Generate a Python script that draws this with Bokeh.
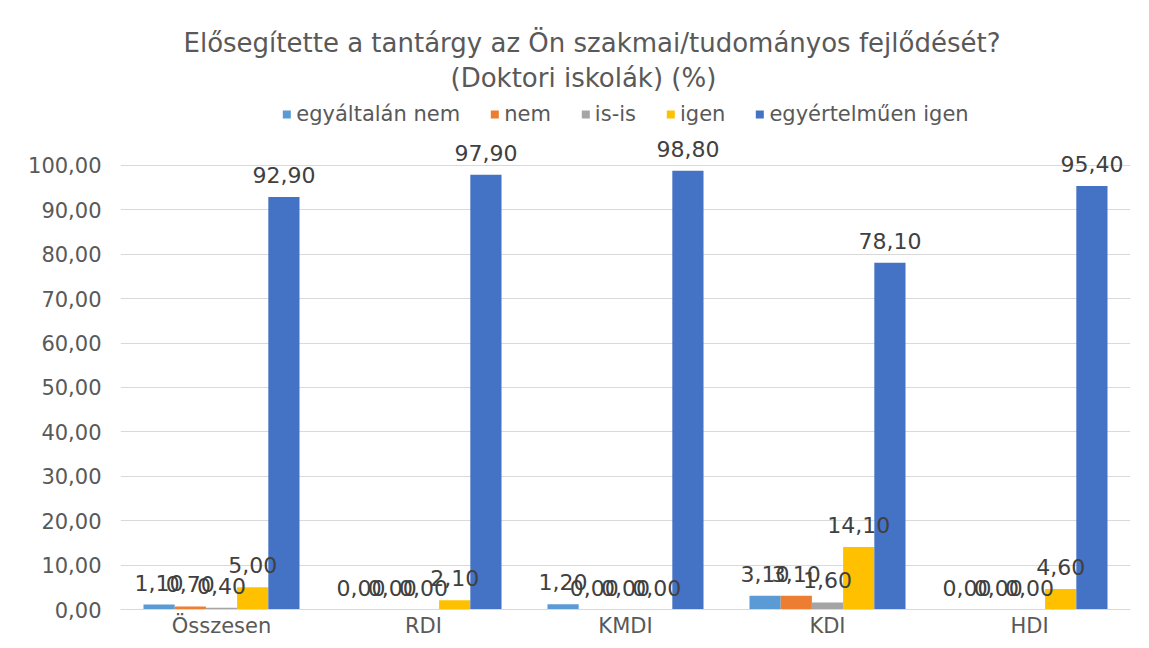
from bokeh.plotting import figure
from bokeh.models import ColumnDataSource, FactorRange, Range1d, FixedTicker, Legend, LegendItem, Title
from bokeh.transform import dodge
from bokeh.core.properties import value
from bokeh.embed import file_html
from bokeh.resources import INLINE

categories = ["Összesen", "RDI", "KMDI", "KDI", "HDI"]
series_names = ["egyáltalán nem", "nem", "is-is", "igen", "egyértelműen igen"]
egyaltalan_nem = [1.10, 0.00, 1.20, 3.10, 0.00]
nem = [0.70, 0.00, 0.00, 3.10, 0.00]
is_is = [0.40, 0.00, 0.00, 1.60, 0.00]
igen = [5.00, 2.10, 0.00, 14.10, 4.60]
egyertelmuen_igen = [92.90, 97.90, 98.80, 78.10, 95.40]
y_ticks = [0, 10, 20, 30, 40, 50, 60, 70, 80, 90, 100]
title_lines = ["Elősegítette a tantárgy az Ön szakmai/tudományos fejlődését?",
               "(Doktori iskolák) (%)"]

series_values = [egyaltalan_nem, nem, is_is, igen, egyertelmuen_igen]
colors = ["#5B9BD5", "#ED7D31", "#A5A5A5", "#FFC000", "#4472C4"]

FONT = "DejaVu Sans"

def fmt(v):
    return f"{v:.2f}".replace(".", ",")

p = figure(
    x_range=FactorRange(*categories, range_padding=0),
    y_range=Range1d(0, 115.09),
    width=1141, height=640,
    output_backend="svg", toolbar_location=None,
    min_border_left=120, min_border_right=11, min_border_bottom=31, min_border_top=98,
    title=None,
)
p.outline_line_color = None
title_offsets = [330, 63]
title_standoffs = [11, -5]
for line, off, so in zip(reversed(title_lines), title_offsets, title_standoffs):
    p.add_layout(Title(text=line, align="left", text_font=FONT, text_font_size="26px",
                       text_font_style="normal", text_color="#595959",
                       standoff=so, offset=off), "above")

bw = 0.1545
offsets = [-2 * bw, -bw, 0, bw, 2 * bw]
items = []
sources = []
for name, vals, col, off in zip(series_names, series_values, colors, offsets):
    src = ColumnDataSource(dict(cat=categories, val=vals, lab=[fmt(v) for v in vals]))
    sources.append((src, off))
    r = p.vbar(x=dodge("cat", off, range=p.x_range), top="val", width=bw, source=src,
               fill_color=col, line_color=None)
    items.append(LegendItem(label=name, renderers=[r]))

for src, off in sources:
    p.text(x=dodge("cat", off, range=p.x_range), y="val", text="lab", source=src,
           text_align="center", text_baseline="middle", y_offset=-22,
           text_font=value(FONT), text_font_size="22px", text_color="#404040")

legend = Legend(items=items, orientation="horizontal", location="top_center",
                margin=4, padding=2, spacing=29, label_standoff=5,
                glyph_width=10, glyph_height=10,
                label_text_font=FONT, label_text_font_size="21px", label_text_color="#595959",
                border_line_color=None, background_fill_alpha=0)
p.add_layout(legend, "center")

p.yaxis.ticker = FixedTicker(ticks=y_ticks)
p.yaxis.major_label_overrides = {t: fmt(t) for t in y_ticks}
p.yaxis.axis_line_color = None
p.yaxis.major_tick_line_color = None
p.yaxis.minor_tick_line_color = None
p.yaxis.major_label_standoff = 13
p.yaxis.major_label_text_font = FONT
p.yaxis.major_label_text_font_size = "21px"
p.yaxis.major_label_text_color = "#595959"

p.xaxis.axis_line_color = "#D9D9D9"
p.xaxis.axis_line_width = 1
p.xaxis.major_tick_line_color = None
p.xaxis.minor_tick_line_color = None
p.xaxis.major_label_standoff = -2
p.xaxis.axis_label_standoff = 0
p.xaxis.major_label_text_font = FONT
p.xaxis.major_label_text_font_size = "21px"
p.xaxis.major_label_text_color = "#595959"

p.xgrid.grid_line_color = None
p.ygrid.grid_line_color = "#D9D9D9"
p.ygrid.ticker = FixedTicker(ticks=y_ticks)

open("out.html", "w").write(file_html(p, INLINE))
